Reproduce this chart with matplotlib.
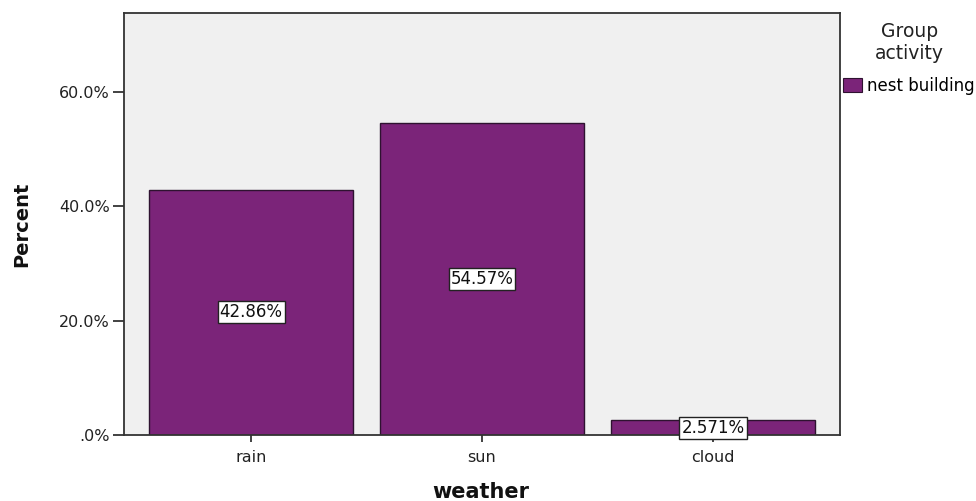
import matplotlib.pyplot as plt
from matplotlib.patches import Patch
from matplotlib.ticker import FuncFormatter

weather = ["rain", "sun", "cloud"]
percent = [42.86, 54.57, 2.571]
labels = ["42.86%", "54.57%", "2.571%"]
yticks = [0, 20, 40, 60]

bar_color = "#7b2479"
edge_color = "#2e1230"
bg_color = "#f0f0f0"

fig = plt.figure(figsize=(9.76, 5.01), dpi=100)
ax = fig.add_axes([124 / 976, 1 - 435 / 501, (840 - 124) / 976, (435 - 13) / 501])
ax.set_facecolor(bg_color)

x = range(len(weather))
ax.bar(x, percent, width=0.88, color=bar_color, edgecolor=edge_color, linewidth=1.0, zorder=2)

# value labels sit in the middle of each bar
for xi, v, lab in zip(x, percent, labels):
    ax.text(xi, v / 2, lab, ha="center", va="center", fontsize=12, color="#111111", zorder=3,
            bbox=dict(boxstyle="square,pad=0.12", facecolor="white", edgecolor="#222222", linewidth=1.0))

ax.set_xlim(-0.55, 2.55)
ax.set_ylim(0, 73.8)
ax.set_xticks(list(x))
ax.set_xticklabels(weather)
ax.set_yticks(yticks)
ax.yaxis.set_major_formatter(FuncFormatter(lambda v, p: ".0%" if v == 0 else f"{v:.1f}%"))
ax.tick_params(axis="y", labelsize=11.5, length=8, width=1.2, pad=2, colors="#222222")
ax.tick_params(axis="x", labelsize=11.5, length=5, width=1.2, pad=6, colors="#222222")
for s in ax.spines.values():
    s.set_color("#333333")
    s.set_linewidth(1.3)

fig.text(22 / 976, 1 - 224 / 501, "Percent", rotation=90, ha="center", va="center",
         fontsize=14, fontweight="bold", color="#111111")
fig.text(481 / 976, 1 - 492 / 501, "weather", ha="center", va="center",
         fontsize=15, fontweight="bold", color="#111111")

handle = Patch(facecolor=bar_color, edgecolor=edge_color, linewidth=0.8)
# with a single entry, labelspacing only sets the gap under the title
leg = fig.legend([handle], ["nest building"], title="Group\nactivity",
                 loc="upper right", bbox_to_anchor=(975 / 976, 1 - 22 / 501),
                 frameon=False, fontsize=12, title_fontsize=13.5,
                 handlelength=1.15, handleheight=0.9, handletextpad=0.3,
                 borderaxespad=0, borderpad=0, labelspacing=0.85)
leg.get_title().set_ha("center")
leg.get_title().set_color("#222222")

fig.savefig("out.png", dpi=100)
